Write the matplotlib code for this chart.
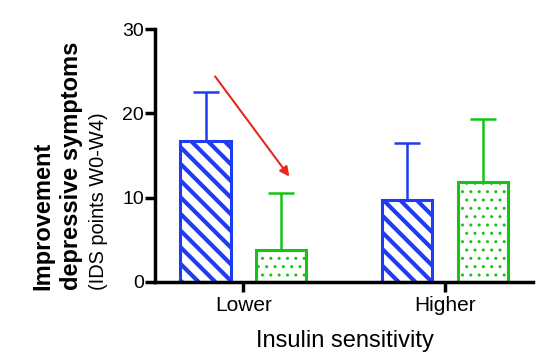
import matplotlib
matplotlib.use("Agg")
import matplotlib.pyplot as plt
import numpy as np

categories = ["Lower", "Higher"]
blue_vals = [16.7, 9.7]
blue_err = [5.9, 6.8]
green_vals = [3.8, 11.9]
green_err = [6.7, 7.4]
yticks = [0, 10, 20, 30]
arrow_start = (-0.14, 24.4)
arrow_end = (0.228, 12.5)

plt.rcParams['font.family'] = ['Liberation Sans', 'DejaVu Sans']
plt.rcParams['hatch.linewidth'] = 3.0

BLUE = '#1f3cf0'
GREEN = '#15c415'
RED = '#e8281c'

fig = plt.figure(figsize=(5.49, 3.61), dpi=100)
ax = fig.add_axes([155/549, 1-281.7/361, (533-155)/549, (281.7-29.3)/361])

x = np.arange(len(categories))
w = 0.25
off = 0.1875

b1 = ax.bar(x - off, blue_vals, w, facecolor='white', edgecolor=BLUE, linewidth=2.2,
            hatch='\\\\', zorder=2)
for p in b1:
    if hasattr(p, 'set_hatch_linewidth'):
        p.set_hatch_linewidth(3.0)
ax.errorbar(x - off, blue_vals, yerr=[np.zeros(len(blue_err)), blue_err], fmt='none',
            ecolor=BLUE, elinewidth=1.8, capsize=9.5, capthick=1.8, zorder=1)

b2 = ax.bar(x + off, green_vals, w, facecolor='white', edgecolor=GREEN, linewidth=2.2,
            hatch='..', zorder=2)
for p in b2:
    if hasattr(p, 'set_hatch_linewidth'):
        p.set_hatch_linewidth(1.0)
ax.errorbar(x + off, green_vals, yerr=[np.zeros(len(green_err)), green_err], fmt='none',
            ecolor=GREEN, elinewidth=1.8, capsize=9.5, capthick=1.8, zorder=1)

ax.annotate('', xy=arrow_end, xytext=arrow_start,
            arrowprops=dict(arrowstyle='-|>', color=RED, lw=1.5, mutation_scale=14,
                            shrinkA=0, shrinkB=0))

ax.set_xlim(-0.438, 1.436)
ax.set_ylim(0, 30)
ax.set_xticks(x)
ax.set_xticklabels(categories, fontsize=15)
ax.set_yticks(yticks)
ax.set_yticklabels([str(t) for t in yticks], fontsize=14)
ax.spines['top'].set_visible(False)
ax.spines['right'].set_visible(False)
ax.spines['left'].set_linewidth(2.5)
ax.spines['bottom'].set_linewidth(2.5)
ax.tick_params(axis='both', direction='out', length=7, width=2.5, color='black')
ax.tick_params(axis='y', pad=1)
ax.tick_params(axis='x', pad=3)

fig.text(345/549, 1-341/361, 'Insulin sensitivity', fontsize=17, ha='center', va='center')

ybot = 1 - 290/361
fig.text(42.5/549, ybot, 'Improvement', fontsize=17, fontweight='bold', rotation=90,
         ha='center', va='bottom')
fig.text(71.7/549, ybot, 'depressive symptoms', fontsize=17, fontweight='bold', rotation=90,
         ha='center', va='bottom')
fig.text(98.3/549, ybot, '(IDS points W0-W4)', fontsize=14.4, rotation=90,
         ha='center', va='bottom')

fig.savefig('out.png', dpi=100)
